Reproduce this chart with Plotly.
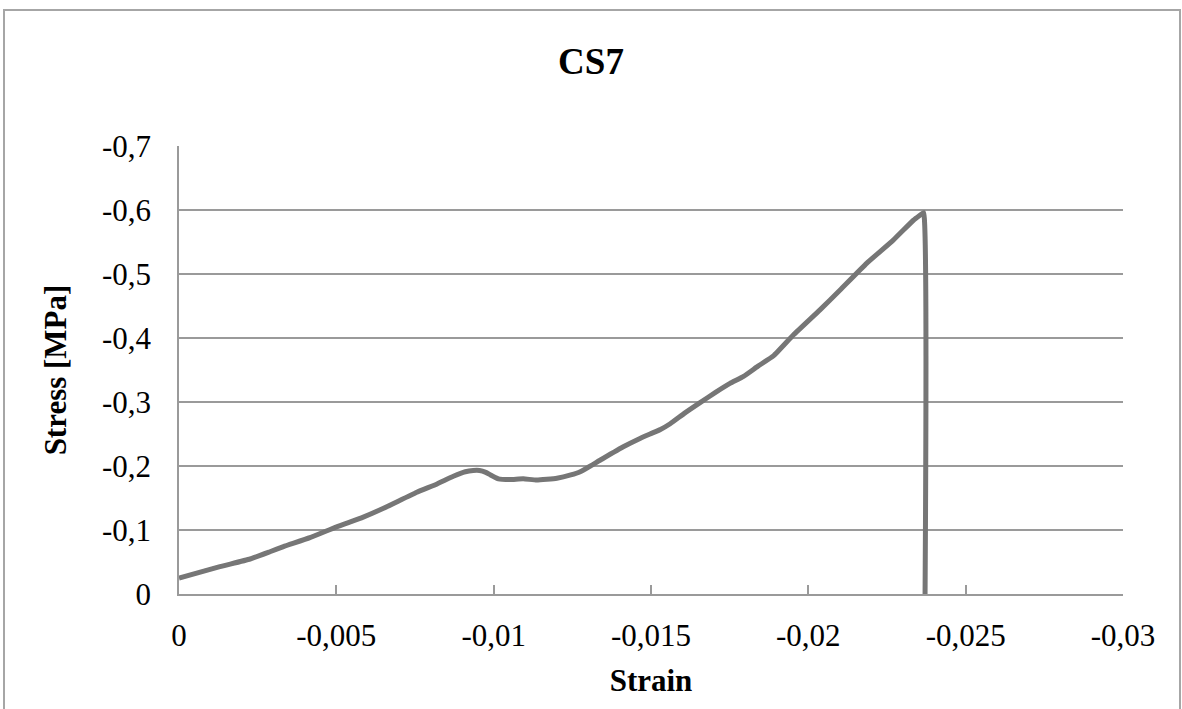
import plotly.graph_objects as go

# Strain / stress readings for specimen CS7 (compression, negative values)
strain = [0.0, -0.0013, -0.00226, -0.00289, -0.00332, -0.00416, -0.00501,
          -0.0058, -0.0065, -0.00756, -0.0082, -0.00872, -0.0091, -0.00935,
          -0.00955, -0.00975, -0.0099, -0.01015, -0.01052, -0.01094, -0.01137,
          -0.01201, -0.01245, -0.01275, -0.01338, -0.01412, -0.01465, -0.01497,
          -0.0153, -0.01561, -0.01608, -0.01656, -0.01705, -0.01751, -0.01794,
          -0.0184, -0.01889, -0.01953, -0.02037, -0.02101, -0.02186, -0.0227,
          -0.02334, -0.02355, -0.02366, -0.02371]
stress = [-0.025, -0.0427, -0.0547, -0.066, -0.074, -0.088, -0.105,
          -0.119, -0.134, -0.159, -0.172, -0.184, -0.191, -0.193,
          -0.193, -0.190, -0.186, -0.180, -0.179, -0.180, -0.178,
          -0.181, -0.186, -0.191, -0.209, -0.230, -0.243, -0.250,
          -0.257, -0.266, -0.283, -0.299, -0.315, -0.329, -0.340,
          -0.356, -0.372, -0.405, -0.444, -0.475, -0.517, -0.553,
          -0.584, -0.592, -0.596, 0.0]

x_ticks = [0, -0.005, -0.01, -0.015, -0.02, -0.025, -0.03]
x_labels = ["0", "-0,005", "-0,01", "-0,015", "-0,02", "-0,025", "-0,03"]
y_ticks = [0, -0.1, -0.2, -0.3, -0.4, -0.5, -0.6, -0.7]
y_labels = ["0", "-0,1", "-0,2", "-0,3", "-0,4", "-0,5", "-0,6", "-0,7"]

FONT = "Liberation Serif"
AXIS_GREY = "#9a9a9a"

fig = go.Figure(
    go.Scatter(
        x=strain, y=stress, mode="lines",
        line=dict(color="#767676", width=5, shape="spline", smoothing=0.4),
        showlegend=False,
    )
)

fig.update_layout(
    width=1182, height=709,
    margin=dict(l=179, r=59, t=146, b=115),
    paper_bgcolor="white", plot_bgcolor="white",
    font=dict(family=FONT, color="black", size=31),
    title=dict(
        text="<b>CS7</b>", font=dict(family=FONT, size=37, color="black"),
        x=0.5, xref="container", xanchor="center",
        y=1 - 61 / 709, yref="container", yanchor="middle",
    ),
    xaxis=dict(
        range=[0, -0.03], tickvals=x_ticks, ticktext=x_labels,
        showgrid=False, zeroline=False,
        showline=True, linecolor=AXIS_GREY, linewidth=1.5,
        ticks="inside", ticklen=9, tickcolor=AXIS_GREY, tickwidth=1.5,
        ticklabelstandoff=13,
        tickfont=dict(family=FONT, size=31, color="black"),
        title=dict(text="<b>Strain</b>", font=dict(family=FONT, size=31, color="black"),
                   standoff=17),
    ),
    yaxis=dict(
        range=[0, -0.7], tickvals=y_ticks, ticktext=y_labels,
        showgrid=True, gridcolor=AXIS_GREY, gridwidth=1.5,
        zeroline=False,
        showline=True, linecolor=AXIS_GREY, linewidth=1.5,
        ticks="", ticklabelstandoff=20,
        tickfont=dict(family=FONT, size=31, color="black"),
        title=dict(text="<b>Stress [MPa]</b>", font=dict(family=FONT, size=31, color="black"),
                   standoff=26),
    ),
    shapes=[
        dict(
            type="rect", xref="paper", yref="paper",
            x0=(4 - 179) / 944, x1=(1180 - 179) / 944,
            y0=(594 - 720) / 448, y1=(594 - 10) / 448,
            line=dict(color="#a6a6a6", width=2), fillcolor="rgba(0,0,0,0)",
            layer="below",
        )
    ],
)

fig.write_html("out.html")
